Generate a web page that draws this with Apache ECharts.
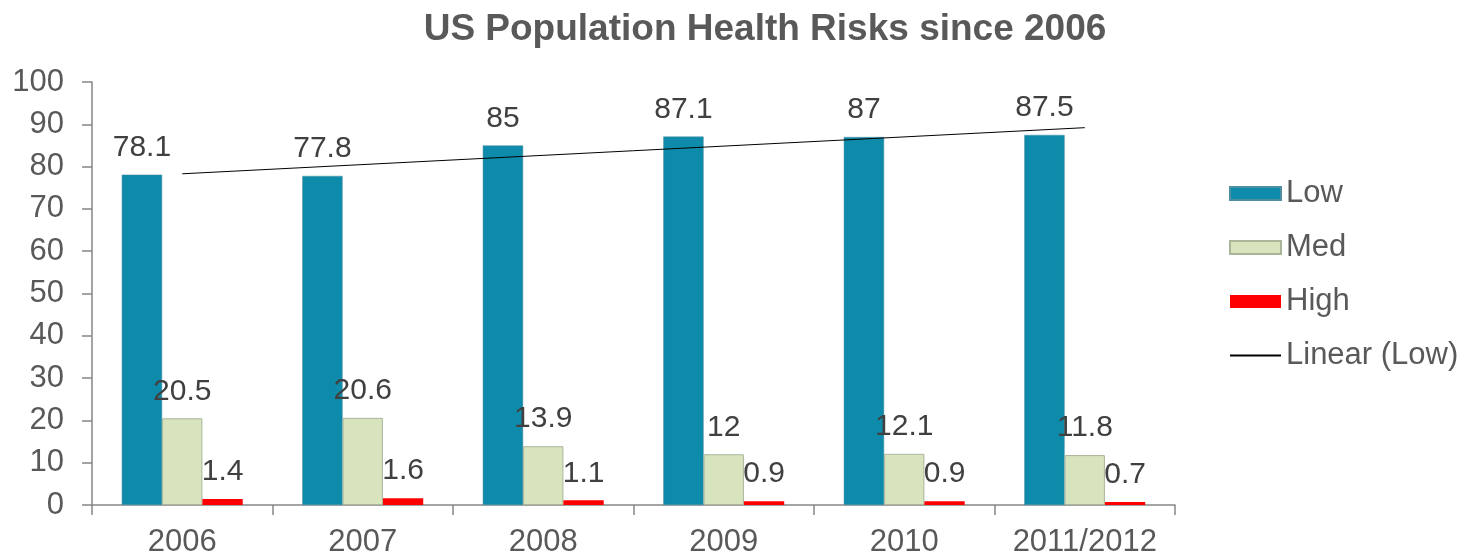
<!DOCTYPE html>
<html>
<head>
<meta charset="utf-8">
<script src="https://cdn.jsdelivr.net/npm/echarts@6/dist/echarts.min.js"></script>
<style>
  html, body { margin: 0; padding: 0; background: #fff; }
  #container { width: 1472px; height: 558px; }
</style>
</head>
<body>
<div id="container"></div>
<script>
// data
var years = ['2006', '2007', '2008', '2009', '2010', '2011/2012'];
var lowRisk = [78.1, 77.8, 85, 87.1, 87, 87.5];
var medRisk = [20.5, 20.6, 13.9, 12, 12.1, 11.8];
var highRisk = [1.4, 1.6, 1.1, 0.9, 0.9, 0.7];
// trendline end points as drawn (first and last category)
var trendLow = [78.3, null, null, null, null, 89.2];

var dom = document.getElementById('container');
var myChart = echarts.init(dom);

var font = 'Liberation Sans, Arial, sans-serif';
var labelStyle = {
    show: true,
    position: 'top',
    distance: 12,
    fontFamily: font,
    fontSize: 30,
    color: '#404040'
};

var option = {
    animation: false,
    textStyle: { fontFamily: font },
    title: {
        text: 'US Population Health Risks since 2006',
        left: 760,
        textAlign: 'center',
        top: 6,
        textStyle: {
            fontFamily: font,
            fontSize: 37,
            fontWeight: 'bold',
            color: '#595959'
        }
    },
    legend: {
        orient: 'vertical',
        left: 1224,
        top: 173,
        itemWidth: 51,
        itemHeight: 13,
        itemGap: 23,
        itemTextGap: 4,
        textStyle: {
            fontFamily: font,
            fontSize: 31,
            color: '#595959'
        },
        data: [
            { name: 'Low', icon: 'rect' },
            { name: 'Med', icon: 'rect' },
            { name: 'High', icon: 'rect' },
            { name: 'Linear (Low)', itemStyle: { opacity: 0 } }
        ]
    },
    grid: {
        left: 92,
        right: 297,
        top: 82,
        bottom: 51
    },
    xAxis: {
        type: 'category',
        data: years,
        axisLine: { lineStyle: { color: '#868686', width: 1.5 } },
        axisTick: { show: true, interval: 0, length: 10, lineStyle: { color: '#868686', width: 1.5 } },
        axisLabel: {
            interval: 0,
            margin: 22,
            fontFamily: font,
            fontSize: 31,
            color: '#595959'
        }
    },
    yAxis: {
        type: 'value',
        min: 0,
        max: 100,
        interval: 10,
        splitLine: { show: false },
        axisLine: { show: true, lineStyle: { color: '#868686', width: 1.5 } },
        axisTick: { show: true, length: 10, lineStyle: { color: '#868686', width: 1.5 } },
        axisLabel: {
            margin: 28,
            fontFamily: font,
            fontSize: 31,
            color: '#595959'
        }
    },
    series: [
        {
            name: 'Low',
            type: 'bar',
            data: lowRisk,
            barGap: '0%',
            barCategoryGap: '33%',
            itemStyle: { color: '#0E8BAA', borderColor: '#4f8fa0', borderWidth: 0.5 },
            label: labelStyle
        },
        {
            name: 'Med',
            type: 'bar',
            data: medRisk,
            itemStyle: { color: '#D7E4BD', borderColor: '#aab59a', borderWidth: 1 },
            label: labelStyle
        },
        {
            name: 'High',
            type: 'bar',
            data: highRisk,
            itemStyle: { color: '#FF0000' },
            label: labelStyle
        },
        {
            name: 'Linear (Low)',
            type: 'line',
            data: trendLow,
            connectNulls: true,
            symbol: 'none',
            z: 5,
            lineStyle: { color: '#000000', width: 1 },
            itemStyle: { color: '#000000' }
        }
    ]
};

myChart.setOption(option);
</script>
</body>
</html>
